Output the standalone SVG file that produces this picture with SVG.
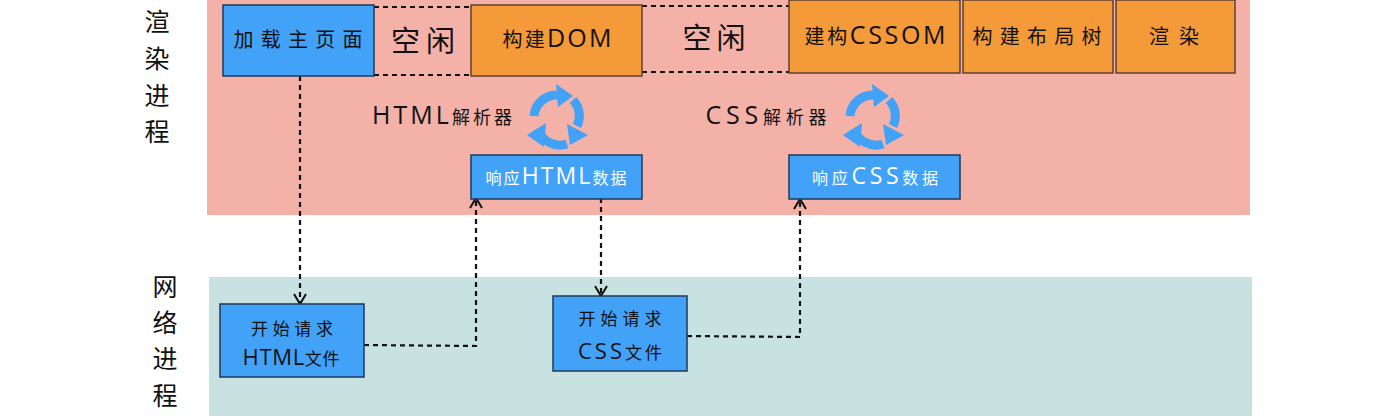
<svg xmlns="http://www.w3.org/2000/svg" xmlns:xlink="http://www.w3.org/1999/xlink" width="1394" height="419" viewBox="0 0 1394 419">
<style>
text{font-family:"Noto Sans CJK SC","Open Sans",sans-serif;fill:#111;text-anchor:middle;font-weight:400}
tspan{font-family:"Open Sans","Noto Sans CJK SC",sans-serif;font-weight:400}
.t{font-size:20px}
.t tspan{font-size:25px}
.w{font-size:16px;fill:#fff}
.w tspan{font-size:23px}
.s{font-size:17px}
.s tspan{font-size:22px}
.p{font-size:18px}
.p tspan{font-size:25px}
.v{font-size:25px}
.i{font-size:29px}
.b{fill:#42a2f8;stroke:#1d3a5c;stroke-width:1.5}
.o{fill:#f49a38;stroke:#5d4030;stroke-width:1.5}
.c{fill:none;stroke:#111;stroke-width:2.2;stroke-dasharray:5 4}
.k{fill:none;stroke:#42a2f8;stroke-width:9}
.h{fill:#42a2f8}
</style>
<defs>
<marker id="a" markerWidth="14" markerHeight="16" refX="12" refY="8" orient="auto" markerUnits="userSpaceOnUse"><path d="M2 2L12 8L2 14" fill="none" stroke="#111" stroke-width="2"/></marker>
<g id="cycle">
<path class="k" d="M-23 -1A23 23 0 0 1 2 -22"/><path class="h" d="M-1 -33L16 -21L1 -10Z"/>
<path class="k" d="M16 -17A23 23 0 0 1 20 9"/><path class="h" d="M10 7L31 18L13 28Z"/>
<path class="k" d="M10 27A23 23 0 0 1 -19 12"/><path class="h" d="M-11 6L-30 18L-13 30Z"/>
</g>
</defs>
<rect id="render-band" x="207" y="0" width="1043" height="215" fill="#f3b1a8"/>
<rect id="network-band" x="209" y="277" width="1043" height="139" fill="#c7e2e0"/>
<g id="render-label"><text class="v" x="157" y="31">渲</text><text class="v" x="157" y="68">染</text><text class="v" x="157" y="105">进</text><text class="v" x="157" y="141">程</text></g>
<g id="network-label"><text class="v" x="165" y="296">网</text><text class="v" x="165" y="332">络</text><text class="v" x="165" y="368">进</text><text class="v" x="165" y="405">程</text></g>
<g id="connectors">
<path class="c" d="M374 7H471M374 75H471M642 6H789M642 72H789"/>
<path class="c" marker-end="url(#a)" d="M300 76V304"/>
<path class="c" marker-end="url(#a)" d="M364 345L476 346V198"/>
<path class="c" marker-end="url(#a)" d="M601 198V296"/>
<path class="c" marker-end="url(#a)" d="M687 336L800 337V199"/>
</g>
<g id="load"><rect class="b" x="223" y="5" width="151" height="71"/><text class="t" x="298" y="47" textLength="129">加载主页面</text></g>
<g id="idle1"><text class="i" x="423" y="52" textLength="64">空闲</text></g>
<g id="dom"><rect class="o" x="471" y="5" width="171" height="71"/><text class="t" x="557" y="47" textLength="109">构建<tspan>DOM</tspan></text></g>
<g id="idle2"><text class="i" x="714" y="49" textLength="63">空闲</text></g>
<g id="cssom"><rect class="o" x="789" y="0" width="171" height="73"/><text class="t" x="875" y="44" textLength="141">建构<tspan>CSSOM</tspan></text></g>
<g id="layout"><rect class="o" x="963" y="0" width="150" height="73"/><text class="t" x="1037" y="44" textLength="129">构建布局树</text></g>
<g id="paint"><rect class="o" x="1116" y="0" width="119" height="73"/><text class="t" x="1174" y="44" textLength="50">渲染</text></g>
<g id="html-parser"><text class="p" x="442" y="124" textLength="140"><tspan>HTML</tspan>解析器</text><use xlink:href="#cycle" href="#cycle" x="557" y="117"/></g>
<g id="css-parser"><text class="p" x="766" y="124" textLength="121"><tspan>CSS</tspan>解析器</text><use xlink:href="#cycle" href="#cycle" x="873" y="117"/></g>
<g id="resp-html"><rect class="b" x="471" y="155" width="171" height="44"/><text class="w" x="556" y="184" textLength="141">响应<tspan>HTML</tspan>数据</text></g>
<g id="resp-css"><rect class="b" x="789" y="155" width="171" height="44"/><text class="w" x="875" y="184" textLength="126">响应<tspan>CSS</tspan>数据</text></g>
<g id="req-html"><rect class="b" x="220" y="304" width="144" height="73"/><text class="s" x="292" y="335" textLength="82">开始请求</text><text class="s" x="291" y="365" textLength="97"><tspan>HTML</tspan>文件</text></g>
<g id="req-css"><rect class="b" x="553" y="296" width="134" height="75"/><text class="s" x="620" y="325" textLength="83">开始请求</text><text class="s" x="620" y="359" textLength="84"><tspan>CSS</tspan>文件</text></g>
</svg>
